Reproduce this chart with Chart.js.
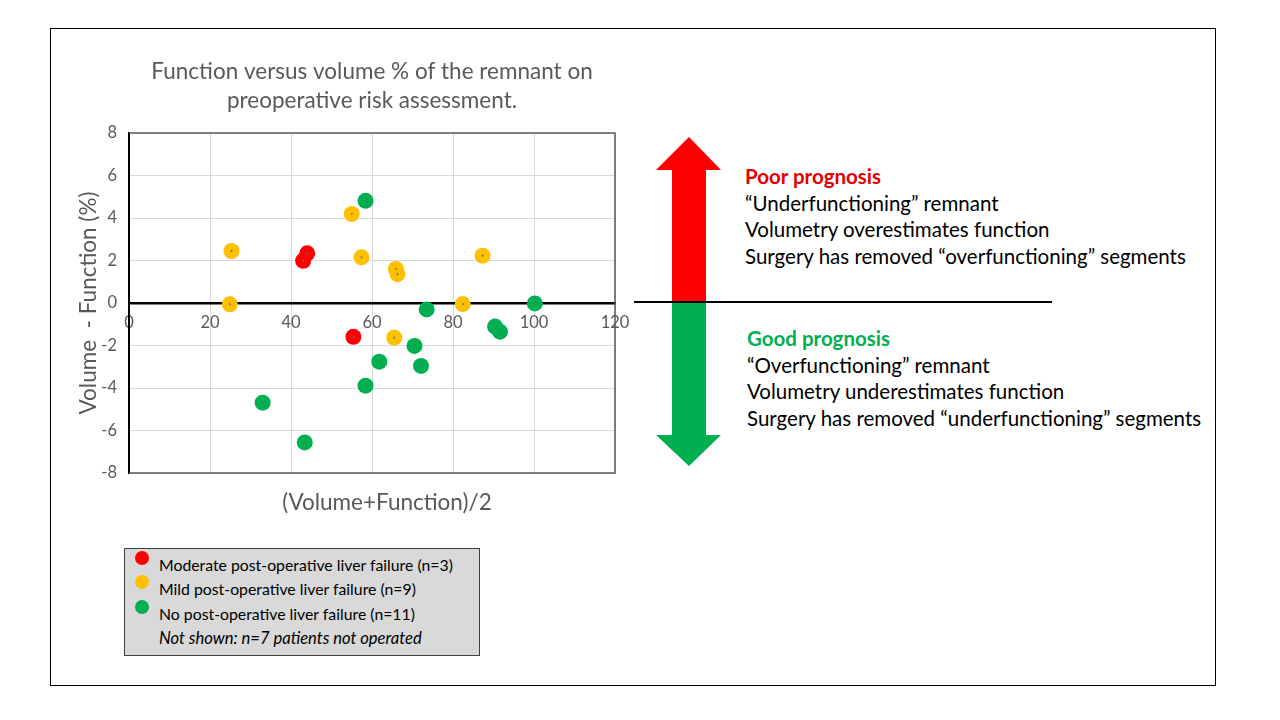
<!DOCTYPE html>
<html>
<head>
<meta charset="utf-8">
<script src="https://cdn.jsdelivr.net/npm/chart.js@4/dist/chart.umd.min.js"></script>
<style>
  body { margin: 0; width: 1280px; height: 720px; overflow: hidden; background: #fff; font-family: Lato, sans-serif; }
  #frame { position: absolute; left: 50px; top: 28px; width: 1166px; height: 658px; box-sizing: border-box; border: 1px solid #000; }
  #wrap { position: absolute; left: 0; top: 0; width: 1280px; height: 720px; }
  #arrow { position: absolute; left: 0; top: 0; }
  .note { position: absolute; font-size: 20.5px; line-height: 26.5px; color: #000; white-space: nowrap; }
  .note b { font-weight: bold; }
  #legend { position: absolute; left: 124px; top: 548px; width: 356px; height: 108px; box-sizing: border-box; background: #d9d9d9; border: 1px solid #3f3f3f; }
  .row { position: absolute; left: 34px; height: 24px; line-height: 24px; font-size: 15.8px; white-space: nowrap; }
  .dot { position: absolute; left: -24px; top: -2px; width: 14px; height: 14px; border-radius: 50%; }
</style>
</head>
<body>
<div id="frame"></div>
<svg id="arrow" width="1280" height="720">
  <polygon points="689,137 721,170 706,170 706,303 672,303 672,170 656,170" fill="#ff0000"/>
  <polygon points="672,303 706,303 706,435 721,435 689,466 656,435 672,435" fill="#00b050"/>
  <line x1="634" y1="302" x2="1052" y2="302" stroke="#000" stroke-width="2"/>
</svg>
<div class="note" style="left:745px; top:163px;">
  <b style="color:#e60000">Poor prognosis</b><br>
  “Underfunctioning” remnant<br>
  Volumetry overestimates function<br>
  Surgery has removed “overfunctioning” segments
</div>
<div class="note" style="left:747px; top:325px;">
  <b style="color:#00b050">Good prognosis</b><br>
  “Overfunctioning” remnant<br>
  Volumetry underestimates function<br>
  Surgery has removed “underfunctioning” segments
</div>
<div id="wrap"><canvas id="chart"></canvas></div>
<div id="legend"></div>
<script>
// ---------------- DATA ----------------
const seriesNames = [
    "Moderate post-operative liver failure (n=3)",
    "Mild post-operative liver failure (n=9)",
    "No post-operative liver failure (n=11)"
];
const seriesColors = ["#ff0000", "#ffc000", "#00b050"];
const noteText = "Not shown: n=7 patients not operated";

const moderateX = [43.0, 44.0, 55.4];
const moderateY = [1.99, 2.34, -1.59];
const mildX = [25.3, 24.9, 55.0, 57.4, 65.9, 66.3, 87.3, 82.4, 65.5];
const mildY = [2.45, -0.06, 4.19, 2.15, 1.6, 1.36, 2.23, -0.05, -1.63];
const noneX = [58.4, 100.2, 73.5, 90.4, 91.6, 70.5, 61.8, 72.1, 58.4, 33.0, 43.4];
const noneY = [4.81, -0.02, -0.3, -1.11, -1.35, -2.02, -2.76, -2.96, -3.89, -4.69, -6.56];

const xTicks = [0, 20, 40, 60, 80, 100, 120];
const yTicks = [-8, -6, -4, -2, 0, 2, 4, 6, 8];

const toPoints = (xs, ys) => xs.map((x, i) => ({ x: x, y: ys[i] }));

// ---------------- PLUGINS ----------------
// thin frame on top, right and bottom of the plot area
const plotFrame = {
    id: "plotFrame",
    beforeDatasetsDraw(chart) {
        const a = chart.chartArea;
        const ctx = chart.ctx;
        ctx.save();
        ctx.strokeStyle = "#595959";
        ctx.lineWidth = 1.5;
        ctx.beginPath();
        ctx.moveTo(a.left, a.top);
        ctx.lineTo(a.right, a.top);
        ctx.lineTo(a.right, a.bottom);
        ctx.lineTo(a.left, a.bottom);
        ctx.stroke();
        ctx.restore();
    }
};

// the x title sits a little right of the plot centre in the original
const shiftTitle = {
    id: "shiftTitle",
    afterLayout(chart) {
        const s = chart.scales.x2;
        s.left += 15;
        s.right += 15;
    }
};

const centerDots = {
    id: "centerDots",
    afterDatasetsDraw(chart) {
        const ctx = chart.ctx;
        ctx.save();
        ctx.fillStyle = "rgba(110,110,110,0.8)";
        chart.data.datasets.forEach((ds, i) => {
            chart.getDatasetMeta(i).data.forEach(pt => {
                ctx.beginPath();
                ctx.arc(pt.x, pt.y, 1.1, 0, Math.PI * 2);
                ctx.fill();
            });
        });
        ctx.restore();
    }
};

// ---------------- CHART ----------------
Chart.defaults.font.family = "Lato, sans-serif";
Chart.defaults.color = "#595959";

new Chart(document.getElementById("chart"), {
    type: "scatter",
    data: {
        datasets: [
            { label: seriesNames[2], data: toPoints(noneX, noneY), backgroundColor: seriesColors[2] },
            { label: seriesNames[1], data: toPoints(mildX, mildY), backgroundColor: seriesColors[1] },
            { label: seriesNames[0], data: toPoints(moderateX, moderateY), backgroundColor: seriesColors[0] }
        ]
    },
    options: {
        responsive: true,
        maintainAspectRatio: false,
        animation: false,
        layout: { padding: { left: 75, top: 40, right: 665, bottom: 187 } },
        elements: { point: { radius: 8, borderWidth: 0, hoverRadius: 8 } },
        plugins: {
            legend: { display: false },
            tooltip: { enabled: false },
            title: {
                display: true,
                fullSize: false,
                text: ["Function versus volume % of the remnant on", "preoperative risk assessment."],
                font: { size: 22.5, weight: "normal", lineHeight: 1.29 },
                color: "#595959",
                padding: { top: 17.5, bottom: 17.5 }
            }
        },
        scales: {
            x: {
                type: "linear",
                position: { y: 0 },
                min: 0,
                max: 120,
                afterBuildTicks: s => { s.ticks = xTicks.map(v => ({ value: v })); },
                ticks: { font: { size: 16.5 }, padding: 10 },
                grid: { color: "#d9d9d9", drawTicks: false },
                border: { color: "#000", width: 2.5 }
            },
            x2: {
                type: "linear",
                axis: "x",
                position: "bottom",
                min: 0,
                max: 120,
                ticks: { display: false },
                grid: { display: false, drawTicks: false },
                border: { display: false },
                title: {
                    display: true,
                    text: "(Volume+Function)/2",
                    font: { size: 22.5 },
                    color: "#595959",
                    padding: { top: 16.5, bottom: 16.5 }
                }
            },
            y: {
                min: -8,
                max: 8,
                afterBuildTicks: s => { s.ticks = yTicks.map(v => ({ value: v })); },
                afterFit: s => { s.width = 54; },
                ticks: { font: { size: 16.5 }, padding: 12 },
                grid: { color: "#d9d9d9", drawTicks: false },
                border: { color: "#000", width: 2 },
                title: {
                    display: true,
                    text: "Volume  - Function (%)",
                    font: { size: 22.5 },
                    color: "#595959",
                    padding: { top: 0, bottom: 0 }
                }
            }
        }
    },
    plugins: [plotFrame, shiftTitle, centerDots]
});

// ---------------- LEGEND BOX ----------------
const legend = document.getElementById("legend");
const rowTops = [4, 28, 53, 77];
seriesNames.forEach((name, i) => {
    const row = document.createElement("div");
    row.className = "row";
    row.style.top = rowTops[i] + "px";
    row.innerHTML = '<span class="dot" style="background:' + seriesColors[i] + '"></span>' + name;
    legend.appendChild(row);
});
const note = document.createElement("div");
note.className = "row";
note.style.top = rowTops[3] + "px";
note.style.fontStyle = "italic";
note.style.fontSize = "16.6px";
note.textContent = noteText;
legend.appendChild(note);
</script>
</body>
</html>
